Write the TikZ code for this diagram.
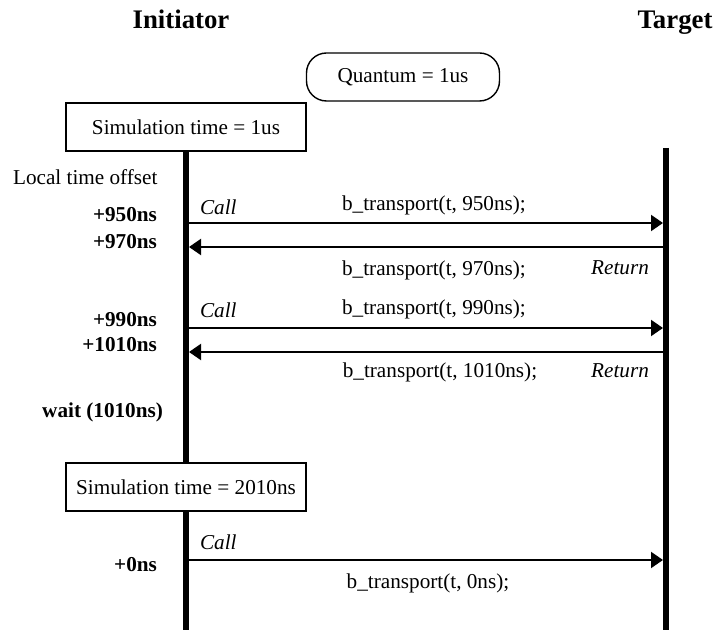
\documentclass[tikz,border=0pt]{standalone}
\usepackage{fontspec}
\setmainfont{Liberation Serif}
\usetikzlibrary{arrows.meta,positioning}

\begin{document}
\begin{tikzpicture}[x=0.5pt,y=-0.5pt,
	every node/.style={font=\fontsize{10.6}{12}\selectfont},
	head/.style={anchor=base,font=\fontsize{13.4}{16}\selectfont\bfseries},
	offs/.style={anchor=east,font=\fontsize{10.6}{12}\selectfont\bfseries},
	simbox/.style={draw,line width=1pt,fill=white,minimum width=120pt,minimum height=24pt},
	life/.style={line width=3pt},
	msg/.style={line width=1pt,-{Triangle[length=6pt,width=8pt]}},
	tag/.style={font=\fontsize{10.6}{12}\selectfont\itshape}]
	\useasboundingbox (0,0) rectangle (714,630);
	
	% heads
	\node[head] (init) at (181,29) {Initiator};
	\node[head] (targ) at (675,29) {Target};
	\node[draw,line width=0.7pt,rounded corners=10pt,minimum width=96.5pt,
		minimum height=24pt] (quant) at (403,77) {Quantum = 1us};
	
	% lifelines
	\node[simbox] (sim1) at (186,127) {Simulation time = 1us\hspace{6pt}};
	\coordinate (ibot) at (186,630);
	\coordinate (ttop) at (666,148);
	\coordinate (tbot) at (666,630);
	\draw[life] (sim1.south) -- (ibot);
	\draw[life] (ttop) -- (tbot);
	\node[simbox] (sim2) at (186,487) {Simulation time = 2010ns};
	
	\node[anchor=west] (lto) at (6,177) {Local time offset};
	
	% messages
	\foreach \y/\n in {223/a,247/b,328/c,352/d,560/e}{
		\coordinate (i\n) at (189,\y);
		\coordinate (t\n) at (663,\y);
	}
	\draw[msg] (ia) -- (ta);
	\draw[msg] (tb) -- (ib);
	\draw[msg] (ic) -- (tc);
	\draw[msg] (td) -- (id);
	\draw[msg] (ie) -- (te);
	
	\node (bt1) at (434,205) {b\_transport(t, 950ns);};
	\node (bt2) at (434,270) {b\_transport(t, 970ns);};
	\node (bt3) at (434,309) {b\_transport(t, 990ns);};
	\node (bt4) at (440,372) {b\_transport(t, 1010ns);};
	\node (bt5) at (428,583) {b\_transport(t, 0ns);};
	
	\node[tag,anchor=west] (call1) at (193,207) {Call};
	\node[tag,anchor=west] (call2) at (193,310) {Call};
	\node[tag,anchor=west] (call3) at (193,542) {Call};
	\node[tag,anchor=east] (ret1) at (656,268) {Return};
	\node[tag,anchor=east] (ret2) at (656,371) {Return};
	
	% offsets
	\node[offs] (o1) at (164,215) {+950ns};
	\node[offs] (o2) at (164,242) {+970ns};
	\node[offs] (o3) at (164,320) {+990ns};
	\node[offs] (o4) at (164,345) {+1010ns};
	\node[offs] (w1) at (170,412) {wait (1010ns)};
	\node[offs] (o5) at (164,565) {+0ns};
\end{tikzpicture}
\end{document}
